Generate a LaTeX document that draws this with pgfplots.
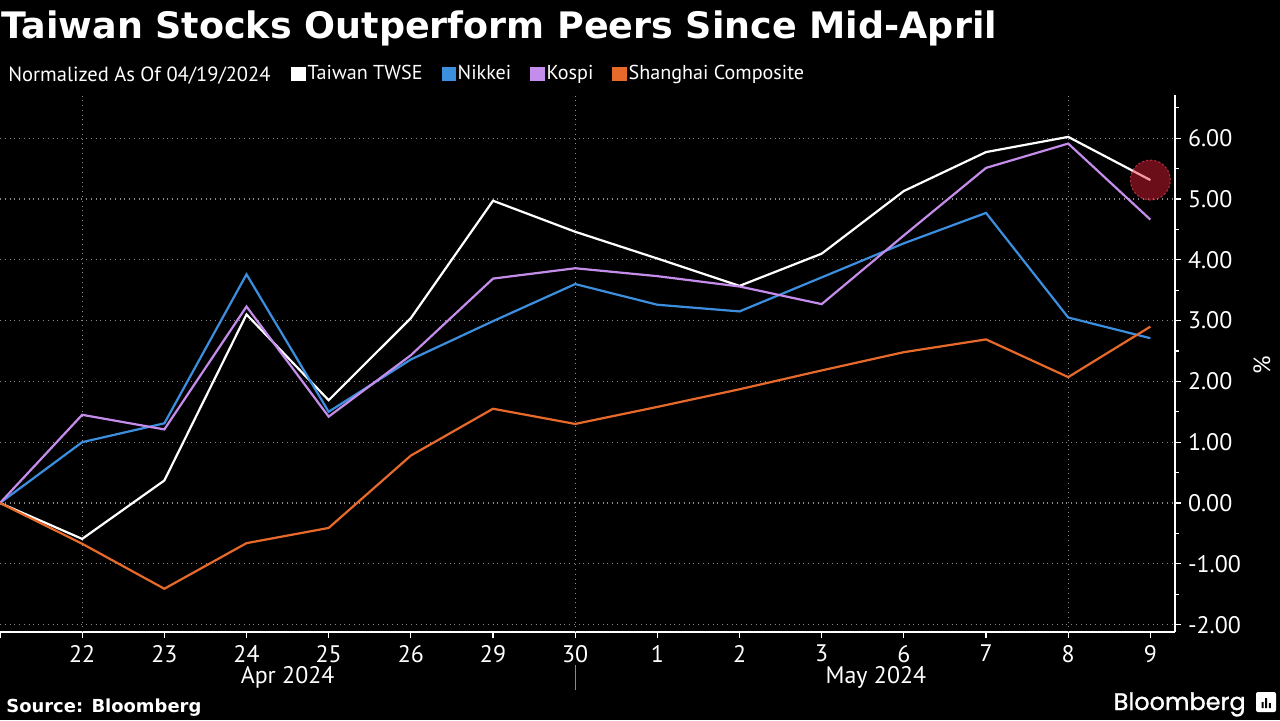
\documentclass[border=0pt]{standalone}
\usepackage{fontspec}
\setmainfont{PT Sans}
\newfontfamily\titlefont{DejaVu Sans}
\newfontfamily\logofont{Poppins}[FakeBold=1.2]
\usepackage{pgfplots}
\usetikzlibrary{backgrounds}
\pgfplotsset{compat=1.18}
\definecolor{twse}{HTML}{FFFFFF}
\definecolor{nikkei}{HTML}{3C8FDF}
\definecolor{kospi}{HTML}{C48CEB}
\definecolor{shang}{HTML}{E86A2B}
\definecolor{gridc}{HTML}{8A8A8A}
\definecolor{hl}{HTML}{F0213A}
\begin{document}
\begin{tikzpicture}[x=1bp,y=1bp]
\begin{axis}[
  scale only axis, width=587.5bp, height=268.5bp,
  xmin=0, xmax=14.3, ymin=-2.12, ymax=6.71,
  clip=false,
  axis x line*=bottom, axis y line*=right,
  axis line style={white, line width=0.8pt, -},
  xtick={0,...,14},
  xticklabels={,22,23,24,25,26,29,30,1,2,3,6,7,8,9},
  extra x ticks={1,7,13},
  extra x tick labels={},
  extra x tick style={grid=major, major tick length=0pt},
  ytick={-2,...,6},
  minor ytick={-1.5,-0.5,...,6.5},
  tick align=outside,
  major tick length=3bp, minor tick length=2bp,
  tick style={white, line width=0.6pt},
  ymajorgrids,
  major grid style={gridc, dotted, line width=0.6pt},
  /pgf/number format/assume math mode=true,
  yticklabel style={/pgf/number format/fixed, /pgf/number format/fixed zerofill, /pgf/number format/precision=2, text=white, font=\fontsize{12}{14}\selectfont},
  xticklabel style={text=white, font=\fontsize{12}{14}\selectfont},
  ylabel={\%},
  ylabel style={text=white, font=\fontsize{12}{14}\selectfont, at={(rel axis cs:1.074,0.497)}, anchor=center, rotate=0},
  legend style={at={(axis description cs:0.2477,1.039)}, anchor=west, draw=none, fill=none, text=white, font=\fontsize{10.1}{12}\selectfont, inner sep=0pt, nodes={inner sep=0.5bp}, /tikz/every even column/.append style={column sep=9bp}, /tikz/every odd column/.append style={column sep=0.5bp}},
  legend columns=-1,
  legend image code/.code={\fill[#1] (0bp,-3bp) rectangle (6bp,3bp);},
  every axis plot/.append style={line width=1.1bp},
]
\addplot[twse] coordinates {(0,0) (1,-0.59) (2,0.37) (3,3.10) (4,1.69) (5,3.04) (6,4.97) (7,4.46) (8,4.02) (9,3.57) (10,4.10) (11,5.13) (12,5.77) (13,6.02) (14,5.31)};
\addlegendentry{Taiwan TWSE}
\addplot[nikkei] coordinates {(0,0) (1,1.00) (2,1.31) (3,3.76) (4,1.50) (5,2.36) (6,2.99) (7,3.60) (8,3.26) (9,3.15) (10,3.71) (11,4.27) (12,4.77) (13,3.05) (14,2.71)};
\addlegendentry{Nikkei}
\addplot[kospi] coordinates {(0,0) (1,1.45) (2,1.21) (3,3.23) (4,1.42) (5,2.43) (6,3.69) (7,3.86) (8,3.73) (9,3.56) (10,3.27) (11,4.40) (12,5.51) (13,5.91) (14,4.66)};
\addlegendentry{Kospi}
\addplot[shang] coordinates {(0,0) (1,-0.67) (2,-1.41) (3,-0.66) (4,-0.41) (5,0.78) (6,1.55) (7,1.30) (8,1.58) (9,1.87) (10,2.18) (11,2.48) (12,2.69) (13,2.07) (14,2.90)};
\addlegendentry{Shanghai Composite}
\addplot[only marks, mark=*, mark size=10bp, mark options={fill=hl, fill opacity=0.45, draw=hl!80!white, draw opacity=0.6, densely dotted, line width=0.5bp}, forget plot] coordinates {(14,5.31)};
\node[text=white, font=\fontsize{12}{14}\selectfont] at (axis cs:3.5,-2.86) {Apr 2024};
\node[text=white, font=\fontsize{12}{14}\selectfont] at (axis cs:10.66,-2.86) {May 2024};
\draw[gridc, line width=0.6pt] (axis cs:7,-2.66) -- (axis cs:7,-3.08);
\coordinate (O) at (axis cs:0,0);
\end{axis}
\pgfresetboundingbox
\begin{scope}[shift={(O)}, yshift=-108.5bp]
\useasboundingbox (0,0) rectangle (640,360);
\begin{scope}[on background layer]
\fill[black] (0,0) rectangle (640,360);
\end{scope}
\node[anchor=base west, text=white, inner sep=0pt, font=\titlefont\fontsize{18.3}{21}\selectfont\bfseries] at (0.5,341) {Taiwan Stocks Outperform Peers Since Mid-April};
\node[anchor=base west, text=white, inner sep=0pt, font=\fontsize{10.3}{12}\selectfont] at (4,319.5) {Normalized As Of 04/19/2024};
\node[anchor=base west, text=white, inner sep=0pt, font=\titlefont\fontsize{9}{11}\selectfont\bfseries] at (3,4) {Source: Bloomberg};
\node[anchor=base east, text=white, inner sep=0pt, font=\logofont\fontsize{12}{14}\selectfont] at (623,5) {Bloomberg};
\fill[white, rounded corners=1bp] (628,4) rectangle (638,14);
\fill[black] (630.8,6) rectangle (631.8,9) (632.6,6) rectangle (633.6,11) (634.4,6) rectangle (635.4,8.5);
\end{scope}
\end{tikzpicture}
\end{document}
